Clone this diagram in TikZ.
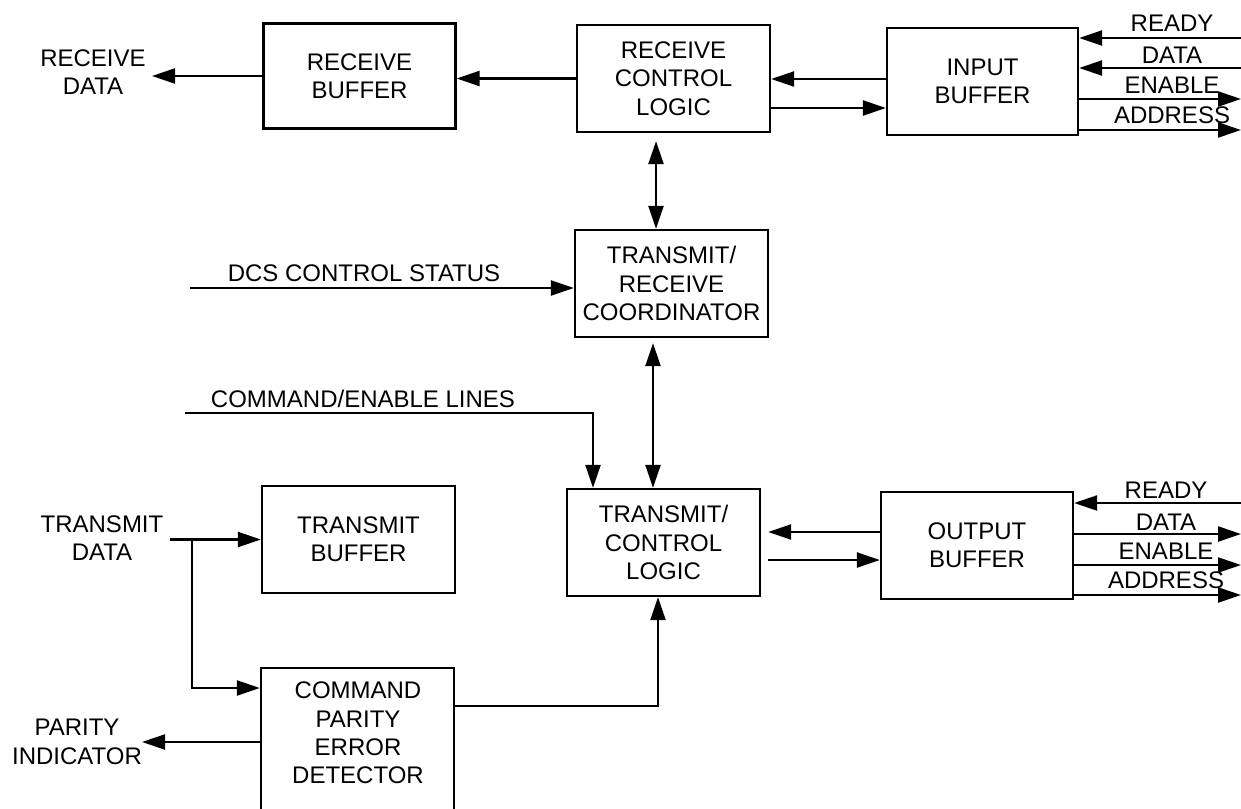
\documentclass[tikz,border=0pt]{standalone}
\usepackage{fontspec}
\setmainfont{Liberation Sans}
\usetikzlibrary{arrows.meta,calc}
\begin{document}
\begin{tikzpicture}[x=0.5pt,y=-0.5pt,
  every node/.style={font=\fontsize{12}{14.2}\selectfont, align=center, inner sep=0pt},
  blk/.style={draw, line width=1.15pt, inner sep=0pt},
  dims/.style 2 args={minimum width={#1*0.5pt}, minimum height={#2*0.5pt}},
  wire/.style={line width=1.15pt},
  arr/.style={wire, -{Triangle[length=11.5pt,width=7.5pt]}},
  darr/.style={wire, {Triangle[length=11.5pt,width=7.5pt]}-{Triangle[length=11.5pt,width=7.5pt]}},
]
\useasboundingbox (0,0) rectangle (1241,808);

% ---- blocks ----
\node[blk, dims={192}{105}] (rb)  at (359.5,76)   {RECEIVE\\BUFFER};
\node[blk, dims={193}{107}] (rcl) at (673.5,78.5) {RECEIVE\\CONTROL\\LOGIC};
\node[blk, dims={191}{107}] (ib)  at (982.5,81.5) {INPUT\\BUFFER};
\node[blk, dims={193}{107}] (trc) at (671.5,283.5) {TRANSMIT/\\RECEIVE\\COORDINATOR};
\node[blk, dims={193}{107}] (tcl) at (663.5,542.5) {TRANSMIT/\\CONTROL\\LOGIC};
\node[blk, dims={192}{107}] (ob)  at (977,545.5)  {OUTPUT\\BUFFER};
\node[blk, dims={193}{107}] (tb)  at (358.5,539.5) {TRANSMIT\\BUFFER};
\node[blk, dims={193}{160}, anchor=north] (cped) at (357.5,667) {};
\node (cpedtext) at (358,733) {COMMAND\\PARITY\\ERROR\\DETECTOR};

% ---- free labels ----
\node (lrd)  at (93,72)   {RECEIVE\\DATA};
\node (ltd)  at (102,538) {TRANSMIT\\DATA};
\node (lpi)  at (77,742)  {PARITY\\INDICATOR};
\node (ldcs) at (364,273) {DCS CONTROL STATUS};
\node (lcmd) at (363,399) {COMMAND/ENABLE LINES};

\node (ibl1) at (1172,23)  {READY};
\node (ibl2) at (1172,55)  {DATA};
\node (ibl3) at (1172,85)  {ENABLE};
\node (ibl4) at (1172,115) {ADDRESS};

\node (obl1) at (1166,490) {READY};
\node (obl2) at (1166,522) {DATA};
\node (obl3) at (1166,551) {ENABLE};
\node (obl4) at (1166,580) {ADDRESS};

% ---- helper coordinates ----
\coordinate (rdend) at (152,76);
\coordinate (r1) at (0,79);
\coordinate (r2) at (0,108);
\coordinate (ibready) at (1241,38);
\coordinate (ibdata)  at (1241,68);
\coordinate (ibenable) at (1241,99);
\coordinate (ibaddr)  at (1241,130);
\coordinate (obready) at (1241,503);
\coordinate (obdata)  at (1241,534);
\coordinate (obenable) at (1241,565);
\coordinate (obaddr)  at (1241,595);
\coordinate (v1) at (656,0);
\coordinate (v2) at (653,0);
\coordinate (v3) at (658,0);
\coordinate (cmdx) at (593,0);
\coordinate (dcsstart) at (190,288);
\coordinate (cmdstart) at (185,413);
\coordinate (r3) at (0,532);
\coordinate (r4) at (0,560);
\coordinate (tdstart) at (170,539.5);
\coordinate (tdsplit) at (192,539.5);
\coordinate (r5) at (0,688);
\coordinate (r6) at (0,742);
\coordinate (piend) at (142,742);
\coordinate (r7) at (0,706);

% ---- receive path ----
\draw[arr] (rb.west) -- (rdend);
\draw[arr] (rcl.west) -- (rcl.west -| rb.east);
\draw[arr] (ib.west |- r1) -- (rcl.east |- r1);
\draw[arr] (rcl.east |- r2) -- (ib.west |- r2);
\draw[arr] (ibready) -- (ibready -| ib.east);
\draw[arr] (ibdata) -- (ibdata -| ib.east);
\draw[arr] (ibenable -| ib.east) -- (ibenable);
\draw[arr] (ibaddr -| ib.east) -- (ibaddr);

% ---- coordinator ----
\draw[darr, shorten <=4pt] (v1 |- rcl.south) -- (v1 |- trc.north);
\draw[arr] (dcsstart) -- (dcsstart -| trc.west);
\draw[darr, shorten <=2.5pt] (v2 |- trc.south) -- (v2 |- tcl.north);
\draw[arr] (cmdstart) -| (cmdx |- tcl.north);

% ---- transmit path ----
\draw[arr, shorten >=3.5pt] (ob.west |- r3) -- (tcl.east |- r3);
\draw[arr, shorten <=3.5pt] (tcl.east |- r4) -- (ob.west |- r4);
\draw[arr] (obready) -- (obready -| ob.east);
\draw[arr] (obdata -| ob.east) -- (obdata);
\draw[arr] (obenable -| ob.east) -- (obenable);
\draw[arr] (obaddr -| ob.east) -- (obaddr);

\draw[arr] (tdstart) -- (tb.west);
\draw[arr] (tdsplit) |- (cped.west |- r5);
\draw[arr] (cped.west |- r6) -- (piend);
\draw[arr] (cped.east |- r7) -| (v3 |- tcl.south);
\end{tikzpicture}
\end{document}
